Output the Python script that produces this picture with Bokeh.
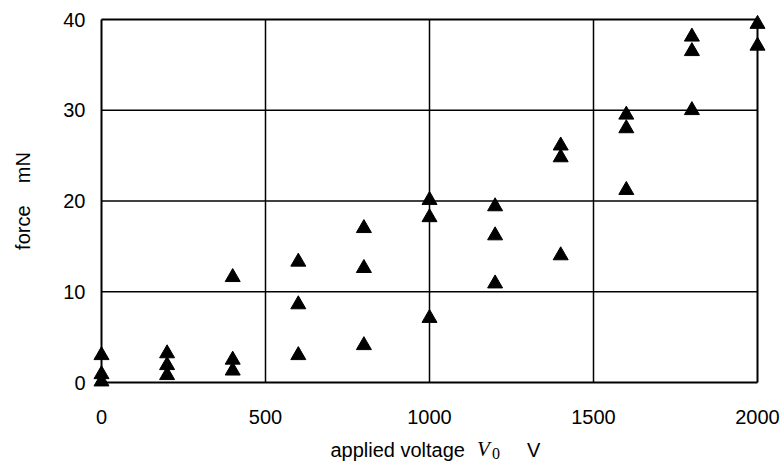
from bokeh.plotting import figure
from bokeh.models import Range1d, FixedTicker, Div
from bokeh.layouts import column
from bokeh.embed import file_html
from bokeh.resources import INLINE

# ---- data ----
voltage = [0, 0, 0,
           200, 200, 200,
           400, 400, 400,
           600, 600, 600,
           800, 800, 800,
           1000, 1000, 1000,
           1200, 1200, 1200,
           1400, 1400, 1400,
           1600, 1600, 1600,
           1800, 1800, 1800,
           2000, 2000]
force = [3.0, 0.9, 0.1,
         3.2, 1.9, 0.8,
         11.6, 2.5, 1.3,
         13.3, 8.6, 3.0,
         17.0, 12.6, 4.1,
         20.1, 18.2, 7.1,
         19.4, 16.2, 10.9,
         26.1, 24.8, 14.0,
         29.5, 28.0, 21.2,
         38.1, 36.5, 30.0,
         39.5, 37.1]

x_ticks = [0, 500, 1000, 1500, 2000]
y_ticks = [0, 10, 20, 30, 40]

x_title_parts = ["applied voltage", "V", "0", "V"]

FONT = "Liberation Sans"
SERIF = "Liberation Serif"

W = 783
H_MAIN = 434
H_TITLE = 31

xmin, xmax = x_ticks[0], x_ticks[-1]
ymin, ymax = y_ticks[0], y_ticks[-1]
xpad = (xmax - xmin) * 10 / 656.0
ypad = (ymax - ymin) * 10 / 363.0

p = figure(width=W, height=H_MAIN, output_backend="svg", toolbar_location=None,
           x_range=Range1d(xmin - xpad, xmax + xpad),
           y_range=Range1d(ymin - ypad, ymax + ypad),
           min_border_left=91, min_border_right=16,
           min_border_top=9, min_border_bottom=42)
p.outline_line_color = None
p.background_fill_color = "white"
p.border_fill_color = "white"
p.xgrid.visible = False
p.ygrid.visible = False

for ax in (p.xaxis[0], p.yaxis[0]):
    ax.axis_line_color = None
    ax.major_tick_line_color = None
    ax.minor_tick_line_color = None
    ax.major_tick_out = 0
    ax.major_tick_in = 0
    ax.major_label_text_font = FONT
    ax.major_label_text_font_size = "20px"
    ax.major_label_text_color = "black"

p.xaxis.ticker = FixedTicker(ticks=x_ticks)
p.yaxis.ticker = FixedTicker(ticks=y_ticks)
p.xaxis.major_label_standoff = 17
p.yaxis.major_label_standoff = 6

p.yaxis.axis_label = "force\u00a0\u00a0\u00a0\u00a0mN"
p.yaxis.axis_label_text_font = FONT
p.yaxis.axis_label_text_font_style = "normal"
p.yaxis.axis_label_text_font_size = "20px"
p.yaxis.axis_label_text_color = "black"
p.yaxis.axis_label_standoff = 26

# grid lines (inner) and frame lines
inner_x = x_ticks[1:-1]
inner_y = y_ticks[1:-1]
p.segment(x0=inner_x, y0=[ymin] * len(inner_x), x1=inner_x, y1=[ymax] * len(inner_x),
          line_color="black", line_width=1.5)
p.segment(x0=[xmin] * len(inner_y), y0=inner_y, x1=[xmax] * len(inner_y), y1=inner_y,
          line_color="black", line_width=1.5)
p.segment(x0=[xmin, xmax, xmin, xmin], y0=[ymin, ymin, ymin, ymax],
          x1=[xmin, xmax, xmax, xmax], y1=[ymax, ymax, ymin, ymax],
          line_color="black", line_width=2)

p.scatter(voltage, force, marker="triangle", size=15,
          fill_color="black", line_color="black", line_width=1)

# ---- x-axis title (mixed fonts: sans text, italic serif V with subscript 0) ----
html = (
    f'<div style="position:relative;width:{W}px;height:{H_TITLE}px;color:black;'
    f'background:white;margin:0;padding:0;white-space:nowrap">'
    f'<span style="position:absolute;right:318px;top:6px;font-family:\'{FONT}\';'
    f'font-size:20px;line-height:20px">{x_title_parts[0]}</span>'
    f'<span style="position:absolute;left:477px;top:5px;font-family:\'{SERIF}\';'
    f'font-style:italic;font-size:21px;line-height:21px">{x_title_parts[1]}</span>'
    f'<span style="position:absolute;left:492px;top:12px;font-family:\'{SERIF}\';'
    f'font-size:16px;line-height:16px">{x_title_parts[2]}</span>'
    f'<span style="position:absolute;left:527px;top:6px;font-family:\'{FONT}\';'
    f'font-size:20px;line-height:20px">{x_title_parts[3]}</span>'
    f'</div>'
)
t = Div(text=html, width=W, height=H_TITLE, margin=0)

layout = column(p, t, spacing=0)
open("out.html", "w").write(file_html(layout, INLINE))
